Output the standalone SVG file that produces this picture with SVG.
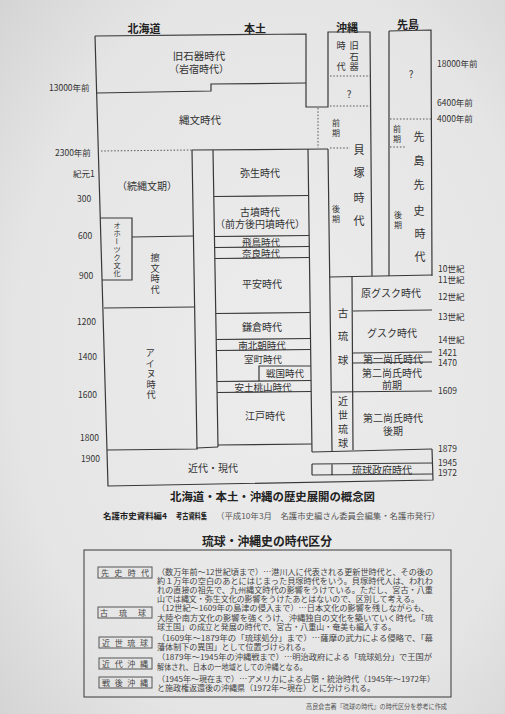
<svg xmlns="http://www.w3.org/2000/svg" width="505" height="714" viewBox="0 0 505 714">
<defs>
<radialGradient id="bg" cx="0.55" cy="0.5" r="0.8">
<stop offset="0" stop-color="#ececec"/>
<stop offset="0.65" stop-color="#e5e5e5"/>
<stop offset="1" stop-color="#d0d0d0"/>
</radialGradient>
</defs>
<style>
.ln{stroke:#383838;stroke-width:1.2;fill:none}
.dt{stroke:#555;stroke-width:1;stroke-dasharray:1.5 1.8;fill:none}
text{font-family:'Noto Sans CJK JP','Noto Sans',sans-serif;fill:#333}
.p{font-size:10px;text-anchor:middle;dominant-baseline:central}
.ps{font-size:9.5px;text-anchor:middle;dominant-baseline:central}
.pv{font-size:9.2px;text-anchor:middle;dominant-baseline:central}
.vl{font-size:11px;text-anchor:middle;dominant-baseline:central}
.vs{font-size:8px;text-anchor:middle;dominant-baseline:central}
.vo{font-size:7.2px;text-anchor:middle;dominant-baseline:central}
.h{font-size:11px;font-weight:bold;text-anchor:middle;dominant-baseline:central;fill:#222}
.n{font-size:8.5px;dominant-baseline:central;fill:#333}
.t{font-weight:bold;dominant-baseline:central;fill:#222}
.para{font-size:7.8px;dominant-baseline:central;fill:#444}
.lb{font-size:8px;dominant-baseline:central;fill:#444}
.lbox{stroke:#555;stroke-width:1;fill:none}
</style>
<rect width="505" height="714" fill="url(#bg)"/>

<g id="headers">
<text class="h" x="144" y="28">北海道</text>
<text class="h" x="255" y="28">本土</text>
<text class="h" x="347" y="27">沖縄</text>
<text class="h" x="408" y="24">先島</text>
</g>

<g id="scale-left">
<text class="n" x="49" y="87">13000年前</text>
<text class="n" x="55" y="152">2300年前</text>
<text class="n" x="73" y="173">紀元1</text>
<text class="n" x="77" y="198">300</text>
<text class="n" x="78" y="235">600</text>
<text class="n" x="79" y="275">900</text>
<text class="n" x="77" y="321">1200</text>
<text class="n" x="78" y="356">1400</text>
<text class="n" x="78" y="394">1600</text>
<text class="n" x="80" y="437">1800</text>
<text class="n" x="81" y="458">1900</text>
</g>
<g id="scale-right">
<text class="n" x="437" y="63">18000年前</text>
<text class="n" x="437" y="102">6400年前</text>
<text class="n" x="437" y="118">4000年前</text>
<text class="n" x="438" y="268">10世紀</text>
<text class="n" x="438" y="279">11世紀</text>
<text class="n" x="438" y="296">12世紀</text>
<text class="n" x="438" y="316">13世紀</text>
<text class="n" x="438" y="339">14世紀</text>
<text class="n" x="438" y="352">1421</text>
<text class="n" x="438" y="362">1470</text>
<text class="n" x="438" y="390">1609</text>
<text class="n" x="438" y="448">1879</text>
<text class="n" x="438" y="462">1945</text>
<text class="n" x="438" y="472">1972</text>
</g>

<g id="grid">
<path class="ln" d="M95,36 L306,34 L306,107 L328,107 L328,32 L370,32 L372,276"/>
<path class="ln" d="M95,36 L108,486 L433,480 L432,449"/>
<path class="ln" d="M96.7,93 L211,91 L211,84 L306,83"/>
<path class="ln" d="M389,31 L431,30 L432,276 M389,31 L389,276"/>
<path class="ln" d="M329,277 L432,275"/>
<path class="ln" d="M192,150 L328,149"/>
<path class="dt" d="M101,151 L192,150"/>
<path class="dt" d="M318,108 L318,148"/>
<path class="dt" d="M330,76 L370,76 M330,106 L371,106 M330,148 L350,148"/>
<path class="dt" d="M390,119 L431,119 M390,147 L405,147"/>
<path class="ln" d="M192,150 L197,449 M213,150 L218,447 M308,149 L312,452 M328,149 L332,451 M352,276 L353,450"/>
<path class="ln" d="M214,196.5 L309,195.5 M214.4,236.5 L309.1,235.5 M214.6,247.5 L309.3,246.5 M214.8,258.5 L309.4,257.5 M215.8,313.5 L310.2,312.5 M216.2,339.5 L310.5,338.5 M216.4,350.5 L310.7,349.5 M216.9,381.5 L311.1,380.5 M217.1,392.5 L311.2,391.5 M218,445 L311.9,444"/>
<path class="ln" d="M259,381 L259,366 L310.9,366"/>
<path class="ln" d="M100.3,218 L132,218 L132,280 L102,280"/>
<path class="ln" d="M132,237 L193,236 M104,308 L194,307 M107,450 L197,449 L197,448 L218,447 M312,452 L432,449"/>
<path class="ln" d="M353,311 L432,310 M353,353 L432,352 M353,363 L432,362 M332,392 L432,391"/>
<path class="ln" d="M312,464 L433,463 M312,475 L433,474 M312,464 L312,475 M332,464 L332,475"/>
</g>

<g id="paleolithic">
<text class="p" x="199" y="55" style="font-size:10.5px">旧石器時代</text>
<text class="p" x="199" y="68">（岩宿時代）</text>
</g>
<g id="jomon"><text class="p" x="200" y="119" style="font-size:10.5px">縄文時代</text></g>
<g id="zoku-jomon"><text class="p" x="147" y="185">（続縄文期）</text></g>
<g id="okhotsk">
<text class="vo" x="117" y="225">オ</text>
<text class="vo" x="117" y="233">ホ</text>
<text class="vo" x="117" y="241" transform="rotate(90 117 241)">ー</text>
<text class="vo" x="117" y="249">ツ</text>
<text class="vo" x="117" y="257">ク</text>
<text class="vo" x="117" y="265">文</text>
<text class="vo" x="117" y="273">化</text>
</g>
<g id="satsumon">
<text class="pv" x="155" y="257">擦</text>
<text class="pv" x="155" y="267.5">文</text>
<text class="pv" x="155" y="278">時</text>
<text class="pv" x="155" y="288.5">代</text>
</g>
<g id="ainu">
<text class="pv" x="150" y="352">ア</text>
<text class="pv" x="150" y="362.5">イ</text>
<text class="pv" x="151" y="373">ヌ</text>
<text class="pv" x="151" y="383.5">時</text>
<text class="pv" x="151" y="394">代</text>
</g>
<g id="honshu">
<text class="p" x="260" y="172">弥生時代</text>
<text class="p" x="260" y="211">古墳時代</text>
<text class="p" x="260" y="223">（前方後円墳時代）</text>
<text class="ps" x="261" y="242">飛鳥時代</text>
<text class="ps" x="261" y="253">奈良時代</text>
<text class="p" x="262" y="283">平安時代</text>
<text class="p" x="262" y="326">鎌倉時代</text>
<text class="ps" x="262" y="345">南北朝時代</text>
<text class="ps" x="263" y="359">室町時代</text>
<text class="ps" x="285" y="373">戦国時代</text>
<text class="ps" x="263" y="387">安土桃山時代</text>
<text class="p" x="265" y="415">江戸時代</text>
</g>
<g id="okinawa-upper">
<text class="pv" x="354" y="45">旧</text>
<text class="pv" x="354" y="55.5">石</text>
<text class="pv" x="354" y="66">器</text>
<text class="pv" x="341" y="45">時</text>
<text class="pv" x="341" y="66">代</text>
<text class="p" x="349" y="93">?</text>
<text class="vs" x="336" y="122">前</text>
<text class="vs" x="336" y="132">期</text>
<text class="vl" x="359" y="149">貝</text>
<text class="vl" x="359" y="172">塚</text>
<text class="vl" x="359" y="197">時</text>
<text class="vl" x="359" y="220">代</text>
<text class="vs" x="336" y="208.5">後</text>
<text class="vs" x="336" y="218.5">期</text>
</g>
<g id="sakishima">
<text class="p" x="411" y="73">?</text>
<text class="vs" x="397" y="128.5">前</text>
<text class="vs" x="397" y="138.5">期</text>
<text class="vl" x="419" y="136">先</text>
<text class="vl" x="419" y="160">島</text>
<text class="vl" x="419" y="184">先</text>
<text class="vl" x="419" y="210">史</text>
<text class="vl" x="420" y="233">時</text>
<text class="vl" x="420" y="256">代</text>
<text class="vs" x="398" y="214.5">後</text>
<text class="vs" x="398" y="224.5">期</text>
</g>
<g id="ko-ryukyu">
<text class="p" x="343" y="312" style="font-size:10.5px">古</text>
<text class="p" x="343" y="335" style="font-size:10.5px">琉</text>
<text class="p" x="343" y="359" style="font-size:10.5px">球</text>
<text class="p" x="391" y="292">原グスク時代</text>
<text class="p" x="392" y="332">グスク時代</text>
<text class="p" x="393" y="358">第一尚氏時代</text>
<text class="p" x="392" y="372">第二尚氏時代</text>
<text class="p" x="392" y="384">前期</text>
</g>
<g id="kinsei-ryukyu">
<text class="p" x="343" y="400">近</text>
<text class="p" x="343" y="414">世</text>
<text class="p" x="343" y="428">琉</text>
<text class="p" x="343" y="442">球</text>
<text class="p" x="393" y="417">第二尚氏時代</text>
<text class="p" x="393" y="430">後期</text>
</g>
<g id="modern">
<text class="p" x="213" y="467">近代・現代</text>
<text class="p" x="382" y="469">琉球政府時代</text>
</g>

<g id="captions">
<text class="t" x="170" y="496" style="font-size:11.5px" textLength="205" lengthAdjust="spacingAndGlyphs">北海道・本土・沖縄の歴史展開の概念図</text>
<text class="t" x="103" y="515" style="font-size:8px" textLength="64" lengthAdjust="spacingAndGlyphs">名護市史資料編4</text>
<text class="t" x="176" y="515" style="font-size:8px" textLength="31" lengthAdjust="spacingAndGlyphs">考古資料集</text>
<text class="lb" x="216" y="515" style="fill:#555" textLength="224" lengthAdjust="spacingAndGlyphs">（平成10年3月　名護市史編さん委員会編集・名護市発行）</text>
<text class="t" x="202" y="540" style="font-size:12px" textLength="130" lengthAdjust="spacingAndGlyphs">琉球・沖縄史の時代区分</text>
</g>

<g id="period-table">
<rect x="84" y="550" width="367" height="147" class="ln" style="stroke-width:1"/>
<rect class="lbox" x="98" y="567" width="54" height="11"/>
<rect class="lbox" x="98" y="607" width="54" height="11"/>
<rect class="lbox" x="99" y="637" width="53" height="11"/>
<rect class="lbox" x="99" y="658" width="53" height="11"/>
<rect class="lbox" x="99" y="677" width="53" height="11"/>
<text class="lb" x="101" y="572.5" textLength="48" lengthAdjust="spacing">先史時代</text>
<text class="lb" x="100" y="612.5" textLength="46" lengthAdjust="spacing">古琉球</text>
<text class="lb" x="102" y="642.5" textLength="46" lengthAdjust="spacing">近世琉球</text>
<text class="lb" x="102" y="663.5" textLength="46" lengthAdjust="spacing">近代沖縄</text>
<text class="lb" x="102" y="682.5" textLength="46" lengthAdjust="spacing">戦後沖縄</text>
<text class="para" x="157" y="571" textLength="276" lengthAdjust="spacingAndGlyphs">（数万年前～12世紀頃まで）…港川人に代表される更新世時代と、その後の</text>
<text class="para" x="157" y="580" textLength="276" lengthAdjust="spacingAndGlyphs">約１万年の空白のあとにはじまった貝塚時代をいう。貝塚時代人は、われわ</text>
<text class="para" x="157" y="589" textLength="276" lengthAdjust="spacingAndGlyphs">れの直接の祖先で、九州縄文時代の影響をうけている。ただし、宮古・八重</text>
<text class="para" x="157" y="598" textLength="262" lengthAdjust="spacingAndGlyphs">山では縄文・弥生文化の影響をうけたあとはないので、区別して考える。</text>
<text class="para" x="157" y="607" textLength="272" lengthAdjust="spacingAndGlyphs">（12世紀～1609年の島津の侵入まで）…日本文化の影響を残しながらも、</text>
<text class="para" x="157" y="617" textLength="276" lengthAdjust="spacingAndGlyphs">大陸や南方文化の影響を強くうけ、沖縄独自の文化を築いていく時代。「琉</text>
<text class="para" x="157" y="626" textLength="239" lengthAdjust="spacingAndGlyphs">球王国」の成立と発展の時代で、宮古・八重山・奄美も編入する。</text>
<text class="para" x="157" y="637" textLength="276" lengthAdjust="spacingAndGlyphs">（1609年～1879年の「琉球処分」まで）…薩摩の武力による侵略で、「幕</text>
<text class="para" x="157" y="646" textLength="153" lengthAdjust="spacingAndGlyphs">藩体制下の異国」として位置づけられる。</text>
<text class="para" x="157" y="656" textLength="275" lengthAdjust="spacingAndGlyphs">（1879年～1945年の沖縄戦まで）…明治政府による「琉球処分」で王国が</text>
<text class="para" x="157" y="666" textLength="150" lengthAdjust="spacingAndGlyphs">解体され、日本の一地域としての沖縄となる。</text>
<text class="para" x="157" y="678" textLength="278" lengthAdjust="spacingAndGlyphs">（1945年～現在まで）…アメリカによる占領・統治時代（1945年～1972年）</text>
<text class="para" x="157" y="687" textLength="218" lengthAdjust="spacingAndGlyphs">と施政権返還後の沖縄県（1972年～現在）とに分けられる。</text>
</g>
<g id="footnote">
<text x="306" y="706" style="font-size:6.5px;fill:#555;dominant-baseline:central" textLength="141" lengthAdjust="spacingAndGlyphs">高良倉吉著『琉球の時代』の時代区分を参考に作成</text>
</g>
</svg>
